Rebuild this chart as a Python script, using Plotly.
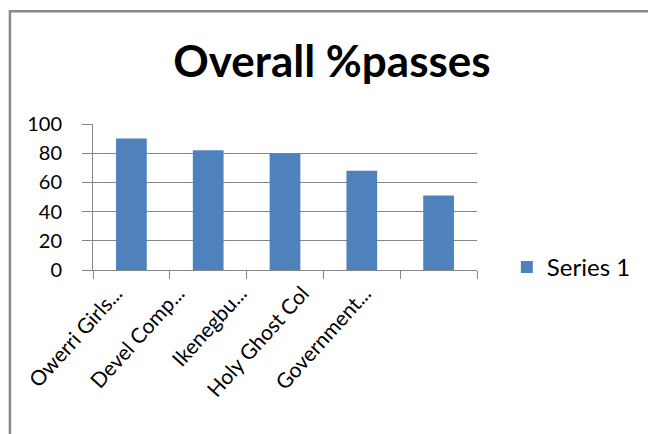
import plotly.graph_objects as go

# ---- data ----
categories = ["Owerri Girls...", "Devel Comp...", "Ikenegbu...", "Holy Ghost Col", "Government..."]
values = [90, 82, 80, 68, 51]
y_ticks = [0, 20, 40, 60, 80, 100]
series_name = "Series 1"
title_text = "Overall %passes"

# ---- layout geometry (pixels) ----
W, H = 648, 434
PL, PR, PT, PB = 93, 479, 124, 270   # plot-area box
pw, ph = PR - PL, PB - PT

def px_x(px):
    return (px - PL) / pw

def px_y(py):
    return (PB - py) / ph

GRID = "#868686"
BLUE = "#4F81BD"
FONT = "Lato, Liberation Sans, Arial, sans-serif"

fig = go.Figure()
fig.add_trace(go.Bar(
    x=categories, y=values, name=series_name,
    marker=dict(color=BLUE, line=dict(width=0)),
    showlegend=True,
))

n = len(categories)
# carrier for the slanted category labels (Excel sets them on a tighter pitch)
fig.add_trace(go.Scatter(
    x=list(range(n)), y=values, xaxis="x2", yaxis="y",
    mode="markers", marker=dict(opacity=0, size=1),
    hoverinfo="skip", showlegend=False,
))

lab_pitch = 62.5
lab_first = 116.0
r0 = -(lab_first - PL) / lab_pitch
r1 = r0 + pw / lab_pitch

fig.update_layout(
    width=W, height=H,
    margin=dict(l=PL, r=W - PR, t=PT, b=H - PB, pad=0),
    paper_bgcolor="white", plot_bgcolor="white",
    bargap=0.6,
    title=dict(
        text=title_text,
        font=dict(family=FONT, size=44, color="black", weight="bold"),
        x=332 / W, xref="container", xanchor="center",
        y=1 - 62 / H, yref="container", yanchor="middle",
    ),
    xaxis=dict(
        type="category", domain=[0, 1],
        showgrid=False, zeroline=False,
        showline=True, linecolor=GRID, linewidth=1,
        ticks="outside", tickson="boundaries", ticklen=8, tickcolor=GRID, tickwidth=1,
        showticklabels=False, automargin=False,
        range=[-0.5, n - 0.5],
    ),
    xaxis2=dict(
        overlaying="x", anchor="y", side="bottom",
        range=[r0, r1], domain=[0, 1],
        tickmode="array", tickvals=list(range(n)), ticktext=categories,
        tickangle=-48, showgrid=False, zeroline=False, showline=False, ticks="",
        tickfont=dict(family=FONT, size=21, color="black"),
        ticklabelstandoff=6, automargin=False,
    ),
    yaxis=dict(
        range=[0, 100], tickmode="array", tickvals=y_ticks,
        showgrid=True, gridcolor=GRID, gridwidth=1,
        zeroline=False, showline=True, linecolor=GRID, linewidth=1,
        ticks="outside", ticklen=10, tickcolor=GRID, tickwidth=1,
        tickfont=dict(family=FONT, size=20, color="black"),
        ticklabelstandoff=16, automargin=False,
    ),
    legend=dict(
        x=px_x(509), xanchor="left",
        y=px_y(267.5), yanchor="middle",
        font=dict(family=FONT, size=24, color="black"),
        bgcolor="rgba(0,0,0,0)", borderwidth=0,
    ),
    shapes=[dict(
        type="rect", xref="paper", yref="paper",
        x0=px_x(9.5), x1=px_x(700), y0=px_y(11.3), y1=px_y(500),
        line=dict(color="#8a8a8a", width=2.5), fillcolor="rgba(0,0,0,0)",
        layer="below",
    )],
)

fig.write_html("out.html")
